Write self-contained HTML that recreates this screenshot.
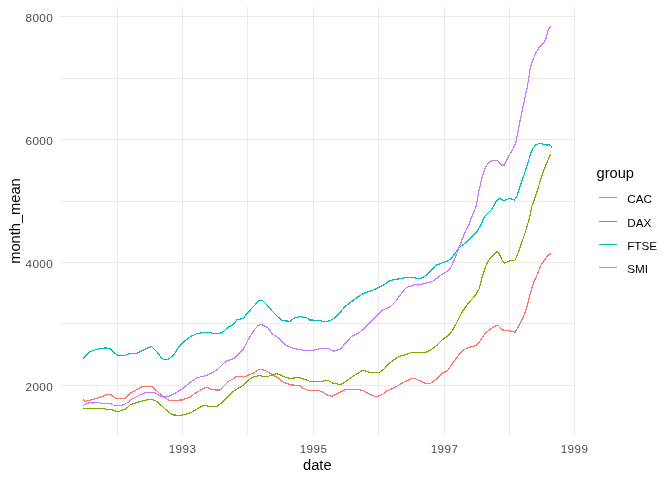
<!DOCTYPE html>
<html><head><meta charset="utf-8"><title>plot</title>
<style>
html,body{margin:0;padding:0;background:#fff;}
svg{display:block;font-family:"Liberation Sans",Arial,sans-serif;}
.grid line{stroke:#EBEBEB;stroke-width:1;shape-rendering:crispEdges;}
.ser polyline{fill:none;stroke-width:1.2;stroke-linejoin:round;stroke-linecap:butt;shape-rendering:crispEdges;}
.tick text{font-size:11.73px;fill:#4D4D4D;letter-spacing:0.4px;}
.ttl text{font-size:14.67px;fill:#000;}
.lkey line{stroke-width:1.1;shape-rendering:crispEdges;}
.llab text{font-size:11.73px;fill:#000;}
</style></head>
<body>
<svg width="672" height="480" viewBox="0 0 672 480">
<rect width="672" height="480" fill="#fff"/>
<g class="grid">
<line x1="117.5" x2="117.5" y1="7" y2="435"/>
<line x1="182.5" x2="182.5" y1="7" y2="435"/>
<line x1="247.5" x2="247.5" y1="7" y2="435"/>
<line x1="313.5" x2="313.5" y1="7" y2="435"/>
<line x1="378.5" x2="378.5" y1="7" y2="435"/>
<line x1="444.5" x2="444.5" y1="7" y2="435"/>
<line x1="509.5" x2="509.5" y1="7" y2="435"/>
<line x1="574.5" x2="574.5" y1="7" y2="435"/>
<line x1="60" x2="575" y1="16.5" y2="16.5"/>
<line x1="60" x2="575" y1="78.5" y2="78.5"/>
<line x1="60" x2="575" y1="139.5" y2="139.5"/>
<line x1="60" x2="575" y1="201.5" y2="201.5"/>
<line x1="60" x2="575" y1="262.5" y2="262.5"/>
<line x1="60" x2="575" y1="323.5" y2="323.5"/>
<line x1="60" x2="575" y1="385.5" y2="385.5"/>
</g>
<g class="ser">
<polyline points="83.3,399.2 84.7,401.3 87.5,400.8 91.7,399.7 96.7,398.3 101.7,396.7 106.7,394.5 110.8,394.5 115.8,398.3 125,398.3 130,393.3 136.7,389.7 142.5,386.3 151.7,386.3 156.7,390.8 163.3,396.7 170,400.8 173.3,400.3 182.5,400 186,398.3 190.2,397.5 194.3,393.8 199.3,390.8 205.2,387.5 207.7,387.5 211,389.2 216,390 220.2,390 224.3,385.8 228.5,381.3 232.7,379.2 236.8,376.3 241,376.3 243.5,377.2 248.5,375 253.5,373 258.5,369.7 262.7,369.5 267.7,371.7 272.7,375 277.7,377.5 283.5,382.5 287.7,383.7 291,385 299.5,385.3 302.8,388 307.8,390.3 318.7,390.5 322.8,392.2 327.8,395.3 332,396.3 337.8,393.3 345.3,389.5 358.7,389.5 363.7,390.8 368.7,393.7 374.5,396.2 377.8,396.3 382.8,394.2 387,390.8 393.7,388 400.3,384.2 404.7,381.7 412.2,378.3 414.7,378.3 419.7,380.8 425.5,383.3 430.5,383.3 437.2,378.3 442.2,373.3 448,370 453.8,361.7 459.3,354.2 464.5,349.2 471,346.7 476,345.8 480.2,340.8 485.2,333.3 490.2,329.2 494.3,326.3 498.5,325.5 502.7,330 509.3,330.8 513.5,331.7 515.2,332.2 518.5,326.7 522.7,318.3 526,310 530.2,293.8 533.5,283 537.7,273.5 541,265 545.2,259.2 548.5,254.7 551,253.7" stroke="#F8766D"/>
<polyline points="83.3,408.5 104.5,408.5 106,409.5 112,409.6 113.2,410.4 115,410.5 116,411.4 119.5,411.4 120.5,410.4 122,410.4 123,409.5 125,409.4 126,408.5 127.7,407.4 130,405 136.7,402.5 145,400.3 151.7,399.2 155.8,400.8 161.7,405.8 168.3,412 173.3,415 181.7,415.3 186,414.2 191,412.5 196,409.7 201,406.7 204.3,405.3 208.5,406.3 216.8,406.3 221,403.3 226,398.3 231,393.3 236,389.7 239.3,387.5 243.5,385.3 248.5,380 252.7,377.2 259.3,375.5 262.7,376.2 268.5,376.2 272.7,374.7 276.8,373.7 281,375.3 286,377.5 290.2,378.3 294.3,378 298.7,377.5 303.7,379.2 311.2,381.7 322.8,381.3 325.3,380.3 327.8,380.3 332.8,383 339.5,384.5 342.8,383.8 348.7,379.2 355.3,374.7 362,370.8 364.5,370.8 370.3,372.5 379.5,372.5 383.7,369.2 390.3,362.5 398.7,356.5 404.7,355 411.3,352.5 425.5,352.5 431.3,349.7 437.2,345 442.2,339.7 448,335.8 452.2,330.8 456.3,323.5 461.3,313.3 466.3,305.8 471.3,299.8 476,294.5 479.3,288.3 482.5,276 484.7,269.2 487.2,263 490.3,257.8 493.6,255 497,251.3 499.5,254.2 502,260 504.5,263 509.5,261 515.2,260 518.5,251.7 522.7,240 526,230 529.3,218.5 531.8,206.7 536.8,192.5 541,178.3 546,164.4 550.7,154.2" stroke="#7CAE00"/>
<polyline points="83.3,358.7 86.7,354.7 90,351.7 95,350 100,348.7 105,348 109.7,348.3 113.3,352 117.5,355 124.2,355.8 130,353.3 135.8,353.7 141.7,350.8 146.7,348.3 151.7,346.7 156.7,351.7 161.7,358.3 165,360 169.2,358.7 174.2,354.2 178.3,347.5 182.5,343 186,339.9 191,336.3 196.8,333.7 202.7,332.5 209.3,332.5 212.7,333.3 220.2,333.3 224.3,330.8 227.7,327.5 232.7,325 236.8,320 243.5,318 248.5,311.7 254.3,305.8 258.5,300.8 262.7,300.8 267.7,305.8 272.7,311.7 277.7,316.7 282.7,320.8 290.2,321.2 293.5,318.5 296.2,317.5 300.3,316.7 306.2,317.5 309.5,320 319.5,320.3 322,321.3 327.8,321.3 332.8,319.2 338.7,314.2 344.5,307 350.3,302.5 357,297.5 363.7,293.3 370.3,291.2 378.3,287.8 383.7,285 389.5,280.8 396.2,279.2 400,278.8 406.3,277.5 414.7,277.5 417.2,278.7 421.3,278.3 425.5,275.8 430.5,271.3 435.5,265.5 441.3,263.3 448,260.8 451.3,258.3 455.5,252.5 460.5,246.3 466.3,242.5 471.3,237.5 476.3,232.5 480.5,225.8 484.3,216.7 491.8,209.2 496,201.7 499.3,198.3 502.7,200.3 506,200 509.3,198.3 514.3,200 516.8,196.7 520.2,185.8 524.3,174.2 528,162.5 530.2,155 532.7,148.3 536,144.7 540.2,143.3 544.3,144.7 546.8,145 549.3,144.7 551,146 552,148" stroke="#00BFC4"/>
<polyline points="83.3,405.4 85,404.5 87,403.5 89.5,402.6 92,402.5 93,403.4 94.5,402.5 99.5,402.5 100.2,403.4 110.5,403.5 112,404.4 113.7,405.4 121.7,405.4 124,404.4 126.7,403.3 131.7,399.2 138.3,395.8 145,392.8 155,392.8 160,395.8 164.2,397 169.2,396.3 175,393.3 181.7,389.2 186,385.8 191,381.7 196,378.3 201,376.7 206.8,375.5 212.7,372.5 217.7,369.2 222.7,364.2 226.8,360.8 233.5,358.7 239.3,353 243.5,348.8 248.5,339.2 253.5,330.8 258.5,325.3 261.8,324.5 267.7,327.5 272.7,334.2 277.7,337.5 282.7,342.5 286,345.5 292.7,348 297.8,349.2 303.7,350.3 313.7,350.3 321.2,348.3 327.4,348.3 333.7,351.2 340.3,349.2 345.3,343.3 351.2,336.8 358.7,333 365.3,327.5 372,320.8 378.3,314.2 382.8,310 390.3,306.7 396.2,300.8 399,296.5 402.2,292.5 406.3,287.5 412.2,285.8 414.7,284.2 418.8,285 424.7,283.3 432.2,281.7 437.2,278 442.2,274.2 448,270.8 451.3,266.7 455.5,257 458.8,248.3 462.2,239.2 465.8,230.5 468.8,225 471.8,216.7 476,206.7 478.5,193.3 481.8,178.3 485.2,167.5 489.3,162 493.5,160.3 497.7,160.8 501.8,165.3 504.3,165 508.5,156.7 512.7,149.5 515.7,143.3 517.7,133.3 520.2,120 522.7,108.3 525.2,96.7 527.3,87 528.5,80 530.2,68.3 532.7,60 535.2,54.2 538.5,48.3 543.5,43.3 546,38.3 548.5,29.2 551,26.3" stroke="#C77CFF"/>
</g>
<g class="tick">
<text x="53.2" y="21.8" text-anchor="end">8000</text>
<text x="53.2" y="144.8" text-anchor="end">6000</text>
<text x="53.2" y="267.8" text-anchor="end">4000</text>
<text x="53.2" y="390.8" text-anchor="end">2000</text>
<text x="182.5" y="452.6" text-anchor="middle">1993</text>
<text x="313.5" y="452.6" text-anchor="middle">1995</text>
<text x="444.5" y="452.6" text-anchor="middle">1997</text>
<text x="574.5" y="452.6" text-anchor="middle">1999</text>
</g>
<g class="ttl">
<text x="317.3" y="469.5" text-anchor="middle">date</text>
<text transform="translate(20.2,221) rotate(-90)" text-anchor="middle">month_mean</text>
<text x="596.5" y="177.5">group</text>
</g>
<g class="lkey">
<line x1="598.5" x2="617" y1="197.5" y2="197.5" stroke="#F8766D"/>
<line x1="598.5" x2="617" y1="221.5" y2="221.5" stroke="#7CAE00"/>
<line x1="598.5" x2="617" y1="244.5" y2="244.5" stroke="#00BFC4"/>
<line x1="598.5" x2="617" y1="267.5" y2="267.5" stroke="#C77CFF"/>
</g>
<g class="llab">
<text x="627.2" y="202.9">CAC</text>
<text x="627.2" y="226.9">DAX</text>
<text x="627.2" y="249.9">FTSE</text>
<text x="627.2" y="272.9">SMI</text>
</g>
</svg>
</body></html>
